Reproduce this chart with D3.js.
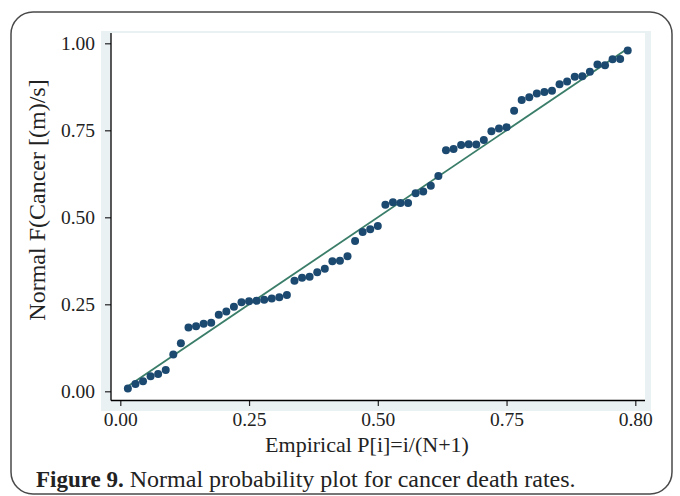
<!DOCTYPE html>
<html>
<head>
<meta charset="utf-8">
<script src="https://cdn.jsdelivr.net/npm/d3@7"></script>
<style>
  html, body { margin: 0; padding: 0; background: #fff; }
  svg { display: block; font-family: "Liberation Serif", "DejaVu Serif", serif; }
</style>
</head>
<body>
<svg id="chart"></svg>
<script>
// Empirical P[i]=i/(N+1), N = 67
const empiricalP = [
  0.0147, 0.0294, 0.0441, 0.0588, 0.0735, 0.0882, 0.1029, 0.1176, 0.1324, 0.1471,
  0.1618, 0.1765, 0.1912, 0.2059, 0.2206, 0.2353, 0.2500, 0.2647, 0.2794, 0.2941,
  0.3088, 0.3235, 0.3382, 0.3529, 0.3676, 0.3824, 0.3971, 0.4118, 0.4265, 0.4412,
  0.4559, 0.4706, 0.4853, 0.5000, 0.5147, 0.5294, 0.5441, 0.5588, 0.5735, 0.5882,
  0.6029, 0.6176, 0.6324, 0.6471, 0.6618, 0.6765, 0.6912, 0.7059, 0.7206, 0.7353,
  0.7500, 0.7647, 0.7794, 0.7941, 0.8088, 0.8235, 0.8382, 0.8529, 0.8676, 0.8824,
  0.8971, 0.9118, 0.9265, 0.9412, 0.9559, 0.9706, 0.9853
];

// Normal F(Cancer [(m)/s]
const normalF = [
  0.008, 0.021, 0.029, 0.043, 0.050, 0.061, 0.106, 0.138, 0.183, 0.187,
  0.194, 0.197, 0.220, 0.229, 0.243, 0.256, 0.259, 0.260, 0.263, 0.267,
  0.270, 0.277, 0.318, 0.326, 0.329, 0.342, 0.352, 0.374, 0.375, 0.388,
  0.432, 0.458, 0.466, 0.475, 0.536, 0.543, 0.541, 0.541, 0.569, 0.574,
  0.591, 0.619, 0.693, 0.696, 0.708, 0.710, 0.709, 0.722, 0.747, 0.755,
  0.759, 0.806, 0.837, 0.845, 0.856, 0.860, 0.864, 0.882, 0.890, 0.904,
  0.905, 0.918, 0.939, 0.937, 0.954, 0.955, 0.979
];

// reference line (y = x) from first to last point
const refLine = [[0.0147, 0.0147], [0.9853, 0.9853]];

const xTicks = [0, 0.25, 0.5, 0.75, 1];
const xTickLabels = ["0.00", "0.25", "0.50", "0.75", "0.80"];
const yTicks = [0, 0.25, 0.5, 0.75, 1];
const yTickLabels = ["0.00", "0.25", "0.50", "0.75", "1.00"];

const xTitle = "Empirical P[i]=i/(N+1)";
const yTitle = "Normal F(Cancer [(m)/s]";
const captionBold = "Figure 9.";
const captionText = " Normal probability plot for cancer death rates.";

const width = 680, height = 496;

const svg = d3.select('#chart')
    .attr('width', width)
    .attr('height', height);

// rounded frame
svg.append('rect')
    .attr('x', 11).attr('y', 12)
    .attr('width', 661).attr('height', 482)
    .attr('rx', 22).attr('ry', 22)
    .attr('fill', '#fff')
    .attr('stroke', '#4a4a4a')
    .attr('stroke-width', 1.5);

// graph region band + white plot region
svg.append('rect')
    .attr('x', 101).attr('y', 31)
    .attr('width', 550).attr('height', 380)
    .attr('fill', '#eaf1f3');
svg.append('rect')
    .attr('x', 111).attr('y', 33)
    .attr('width', 534).attr('height', 367)
    .attr('fill', '#fff');

const x = d3.scaleLinear().domain([0, 1]).range([120.3, 635.3]);
const y = d3.scaleLinear().domain([0, 1]).range([391.3, 43.3]);

// axes
const xAxis = d3.axisBottom(x)
    .tickValues(xTicks)
    .tickFormat((d, i) => xTickLabels[i])
    .tickSize(6)
    .tickSizeOuter(0);
const yAxis = d3.axisLeft(y)
    .tickValues(yTicks)
    .tickFormat((d, i) => yTickLabels[i])
    .tickSize(6)
    .tickSizeOuter(0);

const gx = svg.append('g').attr('transform', 'translate(0,400)').call(xAxis);
gx.select('.domain').remove();
gx.append('line')
    .attr('x1', 111).attr('x2', 645)
    .attr('y1', 0.5).attr('y2', 0.5)
    .attr('stroke', '#000').attr('stroke-width', 1.3);
gx.selectAll('.tick line').attr('stroke', '#222').attr('stroke-width', 1.2);
gx.selectAll('.tick text')
    .attr('y', 12)
    .attr('dy', '0.71em')
    .attr('fill', '#222')
    .style('font-size', '19.5px')
    .style('font-family', '"Liberation Serif", serif');

const gy = svg.append('g').attr('transform', 'translate(111,0)').call(yAxis);
gy.select('.domain').remove();
gy.append('line')
    .attr('x1', 0).attr('x2', 0)
    .attr('y1', 33).attr('y2', 400.5)
    .attr('stroke', '#000').attr('stroke-width', 1.3);
gy.selectAll('.tick line').attr('stroke', '#222').attr('stroke-width', 1.2);
gy.selectAll('.tick text')
    .attr('x', -16)
    .attr('fill', '#222')
    .style('font-size', '19.5px')
    .style('font-family', '"Liberation Serif", serif');

// reference line
svg.append('path')
    .datum(refLine)
    .attr('d', d3.line().x(d => x(d[0])).y(d => y(d[1])))
    .attr('fill', 'none')
    .attr('stroke', '#3a7d69')
    .attr('stroke-width', 1.8);

// points
const points = empiricalP.map((p, i) => ({ p: p, f: normalF[i] }));
svg.append('g').selectAll('circle')
    .data(points)
    .join('circle')
    .attr('cx', d => x(d.p))
    .attr('cy', d => y(d.f))
    .attr('r', 4)
    .attr('fill', '#1c4970');

// axis titles
svg.append('text')
    .attr('x', 367).attr('y', 452)
    .attr('text-anchor', 'middle')
    .attr('fill', '#222')
    .style('font-size', '22px')
    .text(xTitle);

svg.append('text')
    .attr('transform', 'translate(45,200) rotate(-90)')
    .attr('text-anchor', 'middle')
    .attr('fill', '#222')
    .style('font-size', '24px')
    .text(yTitle);

// caption
const cap = svg.append('text')
    .attr('x', 36).attr('y', 487)
    .attr('fill', '#222');
cap.append('tspan').style('font-weight', 'bold').style('font-size', '23px').text(captionBold);
cap.append('tspan').style('font-size', '24px').text(captionText);
</script>
</body>
</html>
